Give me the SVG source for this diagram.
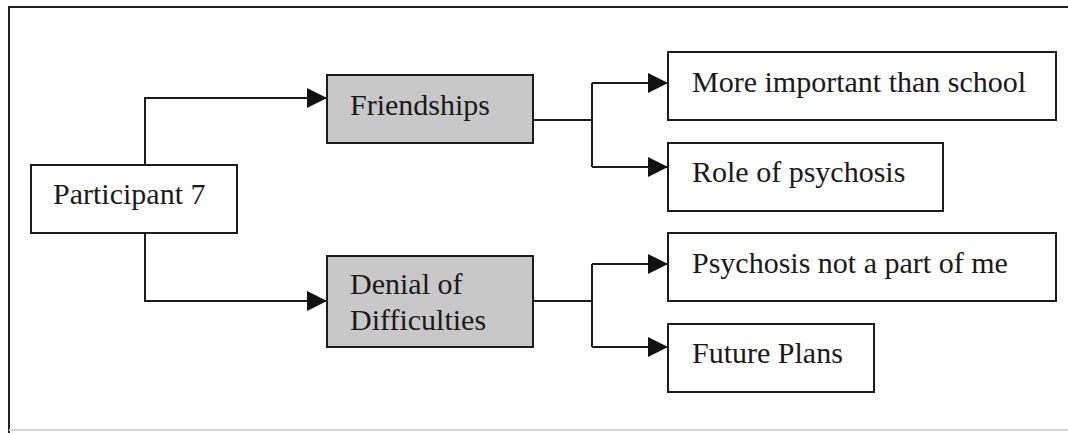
<svg xmlns="http://www.w3.org/2000/svg" width="1068" height="433" viewBox="0 0 1068 433">
  <style>
    .box { fill: #ffffff; stroke: #1c1c1c; stroke-width: 2; }
    .theme { fill: #c8c8c8; stroke: #1c1c1c; stroke-width: 2; }
    .label { font-family: "Liberation Serif", "Times New Roman", serif; font-size: 30px; fill: #1a1a1a; }
    .wire { fill: none; stroke: #1c1c1c; stroke-width: 2; }
    .frame { fill: none; stroke: #222222; stroke-width: 2; }
  </style>
  <defs>
    <marker id="arrow" viewBox="0 0 20 20" refX="20" refY="10" markerWidth="20" markerHeight="20" markerUnits="userSpaceOnUse" orient="auto">
      <path d="M0,0 L20,10 L0,20 Z" fill="#111111"/>
    </marker>
  </defs>

  <rect width="1068" height="433" fill="#ffffff"/>

  <!-- outer frame: top and left edges, faint bottom edge -->
  <g id="frame">
    <path class="frame" d="M9,433 V7 H1068"/>
    <line x1="9" y1="430" x2="1068" y2="430" stroke="#d4d4d4" stroke-width="2"/>
  </g>

  <g id="connectors">
    <path class="wire" d="M145,165 V98 H327" marker-end="url(#arrow)"/>
    <path class="wire" d="M145,233 V301 H327" marker-end="url(#arrow)"/>
    <path class="wire" d="M533,120 H592"/>
    <path class="wire" d="M592,83 V167"/>
    <path class="wire" d="M592,83 H668" marker-end="url(#arrow)"/>
    <path class="wire" d="M592,167 H668" marker-end="url(#arrow)"/>
    <path class="wire" d="M533,301 H592"/>
    <path class="wire" d="M592,264 V347"/>
    <path class="wire" d="M592,264 H668" marker-end="url(#arrow)"/>
    <path class="wire" d="M592,347 H668" marker-end="url(#arrow)"/>
  </g>

  <g id="participant7">
    <rect class="box" x="31" y="165" width="206" height="68"/>
    <text class="label" x="53" y="204">Participant 7</text>
  </g>

  <g id="friendships">
    <rect class="theme" x="327" y="75" width="206" height="68"/>
    <text class="label" x="350" y="115">Friendships</text>
  </g>

  <g id="denial">
    <rect class="theme" x="327" y="256" width="206" height="91"/>
    <text class="label" x="350" y="294">Denial of</text>
    <text class="label" x="350" y="330">Difficulties</text>
  </g>

  <g id="more-important">
    <rect class="box" x="668" y="52" width="388" height="68"/>
    <text class="label" x="692" y="92">More important than school</text>
  </g>

  <g id="role-of-psychosis">
    <rect class="box" x="668" y="143" width="275" height="68"/>
    <text class="label" x="692" y="182">Role of psychosis</text>
  </g>

  <g id="not-part-of-me">
    <rect class="box" x="668" y="233" width="388" height="68"/>
    <text class="label" x="692" y="273">Psychosis not a part of me</text>
  </g>

  <g id="future-plans">
    <rect class="box" x="668" y="324" width="206" height="68"/>
    <text class="label" x="692" y="363">Future Plans</text>
  </g>
</svg>
